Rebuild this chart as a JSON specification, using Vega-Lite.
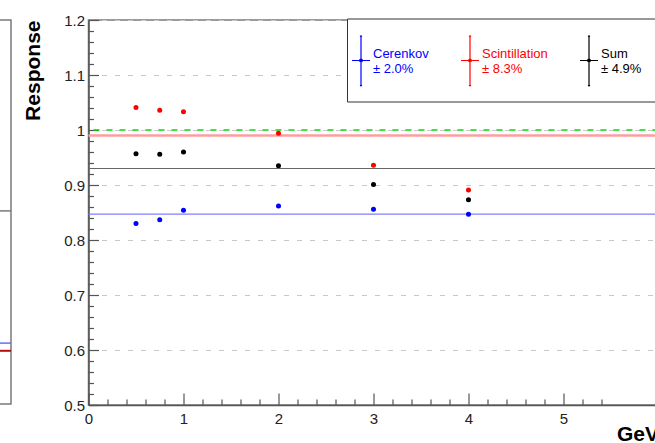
{
  "$schema": "https://vega.github.io/schema/vega-lite/v6.json",
  "background": "white",
  "padding": {"left": -20, "top": 12, "right": 0, "bottom": 0},
  "bounds": "flush",
  "spacing": 77.5,
  "resolve": {"scale": {"color": "independent"}, "legend": {"color": "independent"}},
  "config": {
    "view": {"stroke": "#7a7a7a", "strokeWidth": 1.5},
    "font": "Liberation Sans",
    "axis": {"labelFont": "Liberation Sans", "titleFont": "Liberation Sans", "labelFlush": false, "labelOverlap": false},
    "legend": {
      "symbolType": "M0,-1.96L0,3.52M-1,0.74L1,0.74M-0.12,-1.96L0.12,-1.96M-0.12,3.52L0.12,3.52M0.15,0.74A0.15,0.15 0 1,1 -0.15,0.74A0.15,0.15 0 1,1 0.15,0.74M0,4.5M6.7,0.74",
      "symbolSize": 324,
      "symbolStrokeWidth": 1.2
    }
  },
  "datasets": {
    "points": [
      {"energy": 0.5, "response": 0.830, "series": "Cerenkov"},
      {"energy": 0.75, "response": 0.837, "series": "Cerenkov"},
      {"energy": 1.0, "response": 0.854, "series": "Cerenkov"},
      {"energy": 2.0, "response": 0.862, "series": "Cerenkov"},
      {"energy": 3.0, "response": 0.856, "series": "Cerenkov"},
      {"energy": 4.0, "response": 0.847, "series": "Cerenkov"},
      {"energy": 0.5, "response": 1.041, "series": "Scintillation"},
      {"energy": 0.75, "response": 1.036, "series": "Scintillation"},
      {"energy": 1.0, "response": 1.033, "series": "Scintillation"},
      {"energy": 2.0, "response": 0.994, "series": "Scintillation"},
      {"energy": 3.0, "response": 0.936, "series": "Scintillation"},
      {"energy": 4.0, "response": 0.891, "series": "Scintillation"},
      {"energy": 0.5, "response": 0.957, "series": "Sum"},
      {"energy": 0.75, "response": 0.956, "series": "Sum"},
      {"energy": 1.0, "response": 0.960, "series": "Sum"},
      {"energy": 2.0, "response": 0.935, "series": "Sum"},
      {"energy": 3.0, "response": 0.901, "series": "Sum"},
      {"energy": 4.0, "response": 0.873, "series": "Sum"}
    ],
    "fits": [
      {"series": "Cerenkov", "value": 0.847},
      {"series": "Scintillation", "value": 0.990},
      {"series": "Sum", "value": 0.930}
    ],
    "reference": [{"value": 1.0}],
    "side": [
      {"line": "middle", "value": 0.852},
      {"line": "blue", "value": 0.611},
      {"line": "red", "value": 0.597}
    ]
  },
  "hconcat": [
    {
      "width": 29,
      "height": 384,
      "data": {"name": "side"},
      "layer": [
        {
          "transform": [{"filter": "datum.line === 'middle'"}],
          "mark": {"type": "rule", "color": "#7a7a7a", "strokeWidth": 1.5},
          "encoding": {"y": {"field": "value", "type": "quantitative", "scale": {"domain": [0.5, 1.2]}, "axis": null}}
        },
        {
          "transform": [{"filter": "datum.line === 'blue'"}],
          "mark": {"type": "rule", "color": "#6a6aff", "strokeWidth": 1.5},
          "encoding": {"y": {"field": "value", "type": "quantitative", "axis": null}}
        },
        {
          "transform": [{"filter": "datum.line === 'red'"}],
          "mark": {"type": "rule", "color": "#b01010", "strokeWidth": 2},
          "encoding": {"y": {"field": "value", "type": "quantitative", "axis": null}}
        }
      ]
    },
    {
      "width": 570,
      "height": 385,
      "layer": [
        {
          "data": {"name": "fits"},
          "mark": {"type": "rule"},
          "encoding": {
            "y": {"field": "value", "type": "quantitative", "scale": {"domain": [0.5, 1.2]}, "axis": null},
            "stroke": {"field": "series", "type": "nominal", "scale": {"domain": ["Cerenkov", "Scintillation", "Sum"], "range": ["#7f7fff", "#ff9d9d", "#666666"]}, "legend": null},
            "strokeWidth": {"condition": {"test": "datum.series === 'Scintillation'", "value": 2.5}, "value": 1.2}
          }
        },
        {
          "data": {"name": "reference"},
          "mark": {"type": "rule", "color": "#00dd00", "strokeDash": [6, 7], "strokeWidth": 1.6},
          "encoding": {"y": {"field": "value", "type": "quantitative", "axis": null}}
        },
        {
          "data": {"name": "points"},
          "mark": {"type": "point", "opacity": 0},
          "encoding": {
            "x": {"field": "energy", "type": "quantitative", "axis": {"orient": "bottom", "values": [0.2,0.4,0.6,0.8,1.2,1.4,1.6,1.8,2.2,2.4,2.6,2.8,3.2,3.4,3.6,3.8,4.2,4.4,4.6,4.8,5.2,5.4], "tickSize": -6, "tickColor": "#555555", "tickWidth": 1.2, "labels": false, "domain": false, "grid": false, "title": null}},
            "y": {"field": "response", "type": "quantitative", "axis": {"orient": "left", "values": [0.52,0.54,0.56,0.58,0.62,0.64,0.66,0.68,0.72,0.74,0.76,0.78,0.82,0.84,0.86,0.88,0.92,0.94,0.96,0.98,1.02,1.04,1.06,1.08,1.12,1.14,1.16,1.18], "tickSize": -5, "tickColor": "#555555", "tickWidth": 1.2, "labels": false, "domain": false, "grid": false, "title": null}}
          }
        },
        {
          "data": {"name": "points"},
          "mark": {"type": "point", "opacity": 0},
          "encoding": {
            "x": {"field": "energy", "type": "quantitative", "axis": {"orient": "bottom", "values": [0,1,2,3,4,5], "tickSize": -12, "tickColor": "#555555", "tickWidth": 1.2, "labels": false, "domain": false, "grid": false, "title": null}},
            "y": {"field": "response", "type": "quantitative", "axis": {"orient": "left", "values": [0.5,0.6,0.7,0.8,0.9,1.0,1.1,1.2], "tickSize": -10, "tickColor": "#555555", "tickWidth": 1.2, "labels": false, "domain": false, "grid": false, "title": null}}
          }
        },
        {
          "data": {"name": "points"},
          "mark": {"type": "point", "filled": false, "size": 7, "strokeWidth": 2.4, "opacity": 1},
          "encoding": {
            "x": {"field": "energy", "type": "quantitative", "scale": {"domain": [0, 5.55]},
              "axis": {"orient": "bottom", "values": [0,1,2,3,4,5], "ticks": false, "grid": false, "domainColor": "#555555", "domainWidth": 1.5, "labelFontSize": 15, "labelColor": "#222222", "labelPadding": 6, "title": "GeV", "titleFontSize": 21, "titleFontWeight": "bold", "titleAnchor": "end", "titleColor": "#000000", "titlePadding": -3}},
            "y": {"field": "response", "type": "quantitative",
              "axis": {"orient": "left", "values": [0.5,0.6,0.7,0.8,0.9,1.0,1.1,1.2], "format": "~g", "ticks": false, "grid": true, "gridDash": [5, 8], "gridColor": "#c8c8c8", "gridWidth": 1, "domainColor": "#555555", "domainWidth": 1.5, "labelFontSize": 15, "labelColor": "#222222", "labelPadding": 4, "title": "Response", "titleFontSize": 21, "titleFontWeight": "bold", "titleAnchor": "end", "titleColor": "#000000", "titlePadding": 20}},
            "color": {"field": "series", "type": "nominal",
              "scale": {"domain": ["Cerenkov", "Scintillation", "Sum"], "range": ["#0000ff", "#ff0000", "#000000"]},
              "legend": {
                "orient": "none", "legendX": 258.5, "legendY": -1.5,
                "direction": "horizontal", "columns": 3,
                "title": " ", "titleFontSize": 12, "titlePadding": 9.3,
                "symbolType": "M0,-1.96L0,3.52M-1,0.74L1,0.74M-0.12,-1.96L0.12,-1.96M-0.12,3.52L0.12,3.52M0.15,0.74A0.15,0.15 0 1,1 -0.15,0.74A0.15,0.15 0 1,1 0.15,0.74M0,4.5M6.7,0.74",
                "symbolSize": 324, "symbolStrokeWidth": 1.2,
                "labelFont": "Liberation Sans", "labelFontSize": 13, "labelOffset": 2,
                "labelColor": {"expr": "datum.value === 'Cerenkov' ? '#0000ff' : datum.value === 'Scintillation' ? '#ff0000' : '#000000'"},
                "columnPadding": 29, "padding": 4,
                "fillColor": "white", "strokeColor": "#333333",
                "labelExpr": "datum.value == 'Cerenkov' ? ['Cerenkov', '± 2.0%'] : datum.value == 'Scintillation' ? ['Scintillation', '± 8.3%'] : ['Sum', '± 4.9%']"
              }
            }
          }
        }
      ],
      "resolve": {"axis": {"x": "independent", "y": "independent"}}
    }
  ]
}
